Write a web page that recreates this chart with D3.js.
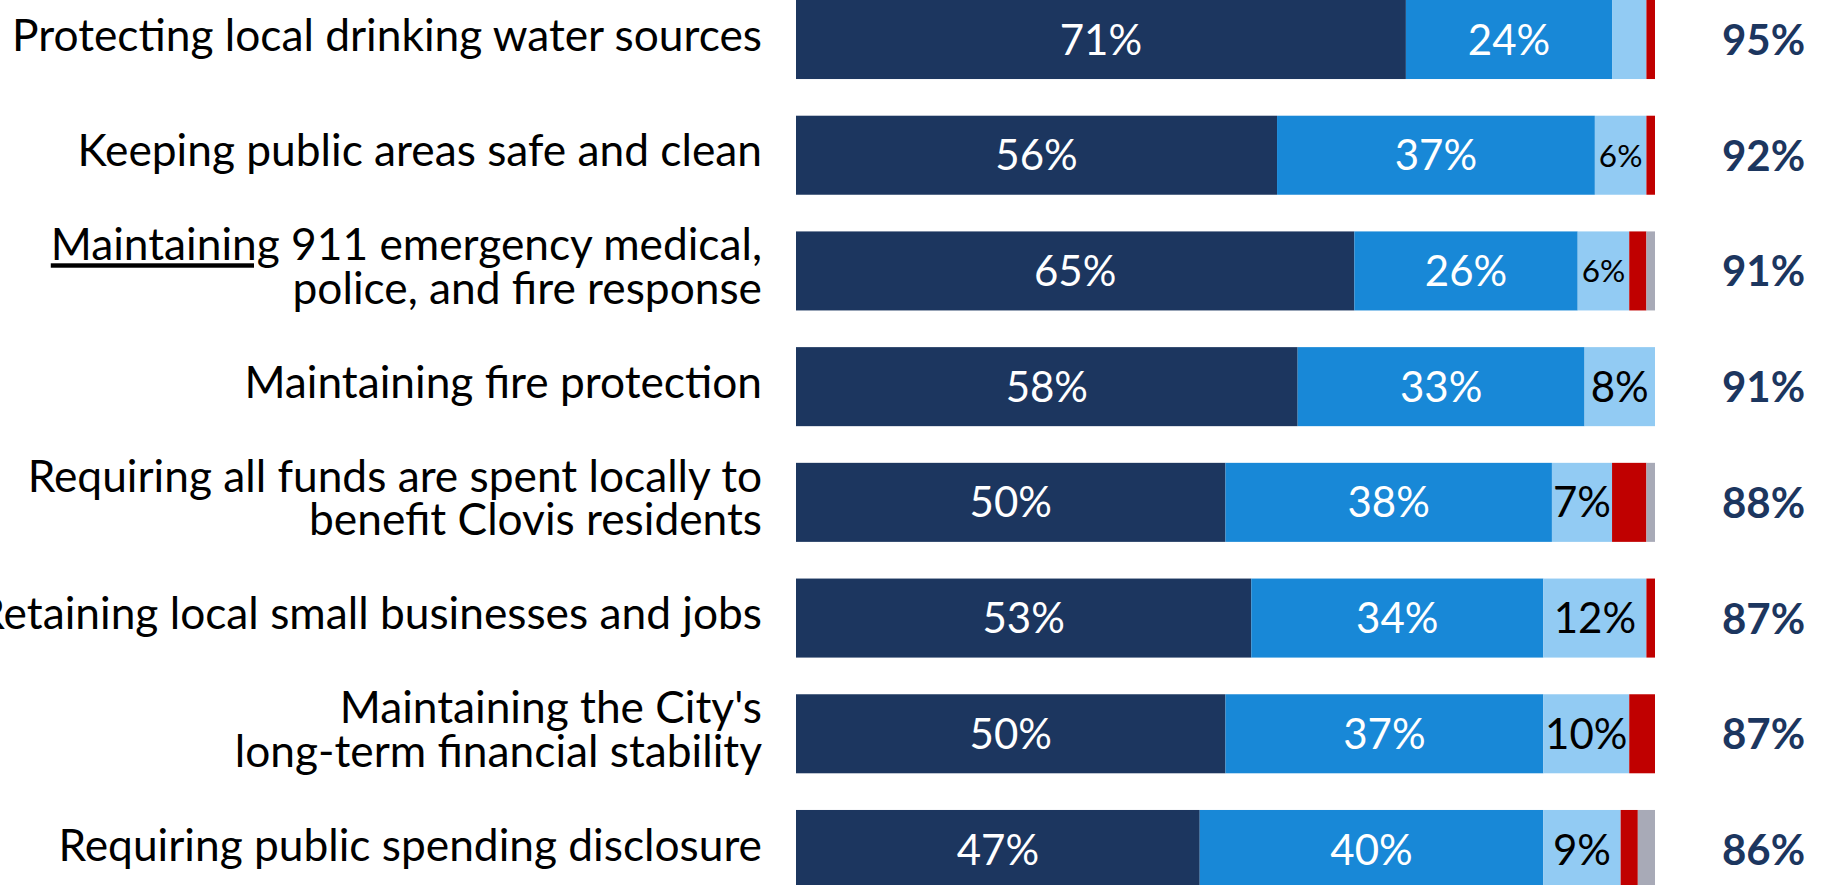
<!DOCTYPE html>
<html>
<head>
<meta charset="utf-8">
<script src="https://cdn.jsdelivr.net/npm/d3@7"></script>
<style>
  html, body { margin: 0; padding: 0; background: #ffffff; overflow: hidden; }
  svg { display: block; }
</style>
</head>
<body>
<svg id="chart" width="1827" height="885"></svg>
<script>
// ---------- data ----------
const categories = [
  "Protecting local drinking water sources",
  "Keeping public areas safe and clean",
  "_Maintaining_ 911 emergency medical,|police, and fire response",
  "Maintaining fire protection",
  "Requiring all funds are spent locally to|benefit Clovis residents",
  "Retaining local small businesses and jobs",
  "Maintaining the City's|long-term financial stability",
  "Requiring public spending disclosure"
];
const seriesNames = ["Extremely important", "Very important", "Somewhat important", "Not important", "Don't know"];
const extremely = [71, 56, 65, 58.4, 50, 53, 50, 47];
const very      = [24, 37, 26, 33.4, 38, 34, 37, 40];
const somewhat  = [4, 6, 6, 8.2, 7, 12, 10, 9];
const notImp    = [1, 1, 2, 0, 4, 1, 3, 2];
const dontKnow  = [0, 0, 1, 0, 1, 0, 0, 2];
const totals    = [95, 92, 91, 91, 88, 87, 87, 86];
const xDomain   = [0, 100];

// ---------- styles ----------
const colors = ["#1c365f", "#1888d7", "#92cbf3", "#c00000", "#a8aab7"];
const labelColors = ["#ffffff", "#ffffff", "#000000", null, null];

const svg = d3.select("#chart");

const x = d3.scaleLinear().domain(xDomain).range([796, 1655]);
const y = d3.scaleBand().domain(d3.range(categories.length))
  .range([0, 889]).paddingInner(0.317).paddingOuter(0);

const seriesVals = [extremely, very, somewhat, notImp, dontKnow];
const rows = categories.map((c, i) => {
  const vals = seriesVals.map(s => s[i]);
  let acc = 0;
  const segs = vals.map((v, k) => { const s = {k, v, x0: acc, x1: acc + v, row: i}; acc += v; return s; });
  return {cat: c, i, segs, total: totals[i]};
});

// ---------- category label font fit ----------
const fontFam = "Lato, 'Open Sans', sans-serif";
const probe = svg.append("text").attr("font-family", fontFam).attr("font-size", 100)
  .text("Protecting local drinking water sources");
const probeLen = probe.node().getComputedTextLength();
probe.remove();
const catFs = 100 * 750 / probeLen;
const lineH = catFs * 0.98;

const labelX = x(0) - 34;
const catG = svg.append("g");
rows.forEach(r => {
  const lines = r.cat.split("|");
  const cy = y(r.i) + y.bandwidth() / 2;
  const base = cy + catFs * 0.25 - (lines.length - 1) * lineH / 2;
  const t = catG.append("text")
    .attr("font-family", fontFam).attr("font-size", catFs)
    .attr("fill", "#000").attr("text-anchor", "end");
  lines.forEach((ln, li) => {
    const m = ln.match(/_([^_]+)_/);
    const tl = t.append("tspan").attr("x", labelX).attr("y", base + li * lineH);
    if (m) {
      const under = m[1];
      const rest = ln.replace("_" + under + "_", "");
      tl.append("tspan").attr("text-decoration", "underline").text(under);
      tl.append("tspan").text(rest);
    } else {
      tl.text(ln);
    }
  });
});

// ---------- bars ----------
const barG = svg.append("g");
rows.forEach(r => {
  barG.selectAll(null).data(r.segs.filter(s => s.v > 0)).enter().append("rect")
    .attr("x", s => x(s.x0))
    .attr("y", y(r.i))
    .attr("width", s => x(s.x1) - x(s.x0))
    .attr("height", y.bandwidth())
    .attr("fill", s => colors[s.k]);
});

// ---------- segment labels ----------
const segFs = 42;
const lblG = svg.append("g");
rows.forEach(r => {
  const cy = y(r.i) + y.bandwidth() / 2;
  r.segs.forEach(s => {
    if (labelColors[s.k] === null || s.v < 5) return;
    const segW = x(s.x1) - x(s.x0);
    const t = lblG.append("text")
      .attr("font-family", fontFam).attr("font-size", segFs)
      .attr("fill", labelColors[s.k]).attr("text-anchor", "middle")
      .attr("x", (x(s.x0) + x(s.x1)) / 2)
      .text(Math.round(s.v) + "%");
    let fs = segFs;
    const len = t.node().getComputedTextLength();
    if (len > segW - 2) { fs = segFs * (segW - 8) / len; t.attr("font-size", fs); }
    t.attr("y", cy + fs * 0.36);
  });
});

// ---------- totals ----------
const totFs = 42;
svg.append("g").selectAll("text").data(rows).enter().append("text")
  .attr("font-family", fontFam).attr("font-weight", "bold").attr("font-size", totFs)
  .attr("fill", "#1c365f").attr("text-anchor", "middle")
  .attr("x", 1763.5)
  .attr("y", r => y(r.i) + y.bandwidth() / 2 + totFs * 0.37)
  .text(r => r.total + "%");
</script>
</body>
</html>
